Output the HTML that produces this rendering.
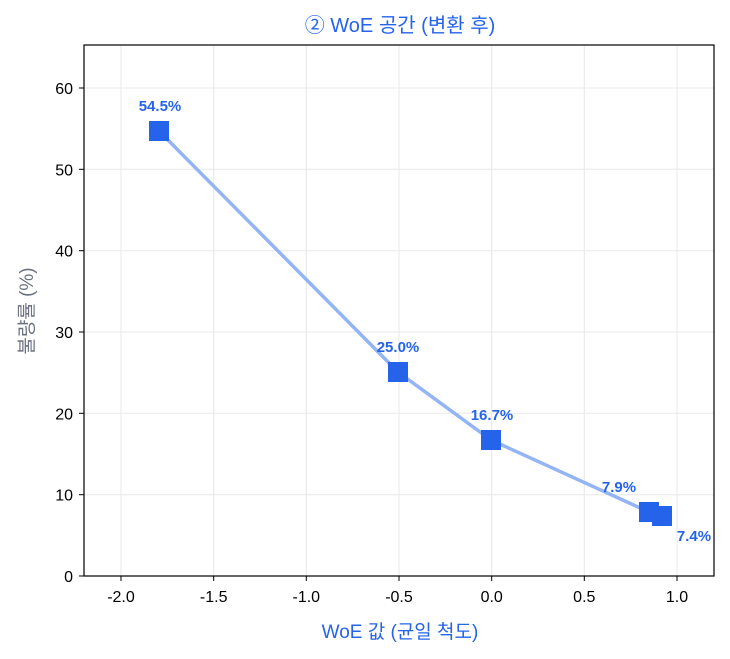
<!DOCTYPE html>
<html><head><meta charset="utf-8"><style>
html,body{margin:0;padding:0;background:#fff;}
svg{display:block;font-family:"Liberation Sans","Noto Sans CJK KR",sans-serif;}
</style></head><body>
<svg width="730" height="659" viewBox="0 0 730 659" xmlns="http://www.w3.org/2000/svg">
<rect width="730" height="659" fill="#fff"/>
<g stroke="#e8e8e8" stroke-width="1">
<line x1="121" y1="45" x2="121" y2="576"/><line x1="213.7" y1="45" x2="213.7" y2="576"/>
<line x1="306.3" y1="45" x2="306.3" y2="576"/><line x1="399" y1="45" x2="399" y2="576"/>
<line x1="491.7" y1="45" x2="491.7" y2="576"/><line x1="584.3" y1="45" x2="584.3" y2="576"/>
<line x1="677" y1="45" x2="677" y2="576"/>
<line x1="84" y1="494.7" x2="714" y2="494.7"/><line x1="84" y1="413.3" x2="714" y2="413.3"/>
<line x1="84" y1="332" x2="714" y2="332"/><line x1="84" y1="250.7" x2="714" y2="250.7"/>
<line x1="84" y1="169.3" x2="714" y2="169.3"/><line x1="84" y1="88" x2="714" y2="88"/>
</g>
<rect x="84" y="45" width="630" height="531" fill="none" stroke="#000" stroke-width="1.2"/>
<g stroke="#000" stroke-width="1">
<line x1="121" y1="576" x2="121" y2="581"/><line x1="213.7" y1="576" x2="213.7" y2="581"/>
<line x1="306.3" y1="576" x2="306.3" y2="581"/><line x1="399" y1="576" x2="399" y2="581"/>
<line x1="491.7" y1="576" x2="491.7" y2="581"/><line x1="584.3" y1="576" x2="584.3" y2="581"/>
<line x1="677" y1="576" x2="677" y2="581"/>
<line x1="79" y1="576" x2="84" y2="576"/><line x1="79" y1="494.7" x2="84" y2="494.7"/>
<line x1="79" y1="413.3" x2="84" y2="413.3"/><line x1="79" y1="332" x2="84" y2="332"/>
<line x1="79" y1="250.7" x2="84" y2="250.7"/><line x1="79" y1="169.3" x2="84" y2="169.3"/>
<line x1="79" y1="88" x2="84" y2="88"/>
</g>
<g font-size="16" fill="#000" text-anchor="middle">
<text x="121" y="602">-2.0</text><text x="213.7" y="602">-1.5</text><text x="306.3" y="602">-1.0</text>
<text x="399" y="602">-0.5</text><text x="491.7" y="602">0.0</text><text x="584.3" y="602">0.5</text><text x="677" y="602">1.0</text>
</g>
<g font-size="16" fill="#000" text-anchor="end">
<text x="73" y="582">0</text><text x="73" y="500.7">10</text><text x="73" y="419.3">20</text>
<text x="73" y="338">30</text><text x="73" y="256.7">40</text><text x="73" y="175.3">50</text><text x="73" y="94">60</text>
</g>
<polyline points="159,131 398,372 491,440 649,512 662,516" fill="none" stroke="#93b4f5" stroke-width="3.5" stroke-linejoin="round"/>
<g fill="#2563eb">
<rect x="149" y="121" width="20" height="20"/><rect x="388" y="362" width="20" height="20"/>
<rect x="481" y="430" width="20" height="20"/><rect x="639" y="502" width="20" height="20"/>
<rect x="652" y="506" width="20" height="20"/>
</g>
<g font-size="15" font-weight="bold" fill="#2563eb" text-anchor="middle">
<text x="160" y="111">54.5%</text><text x="398" y="352">25.0%</text><text x="492" y="420">16.7%</text>
<text x="619" y="492">7.9%</text><text x="694" y="541">7.4%</text>
</g>
<text x="400" y="32" font-size="20" fill="#2563eb" text-anchor="middle">② WoE 공간 (변환 후)</text>
<text x="400" y="638" font-size="19" fill="#2563eb" text-anchor="middle">WoE 값 (균일 척도)</text>
<text transform="translate(33,311) rotate(-90)" font-size="19" fill="#6b7280" text-anchor="middle">불량률 (%)</text>
</svg>
</body></html>
